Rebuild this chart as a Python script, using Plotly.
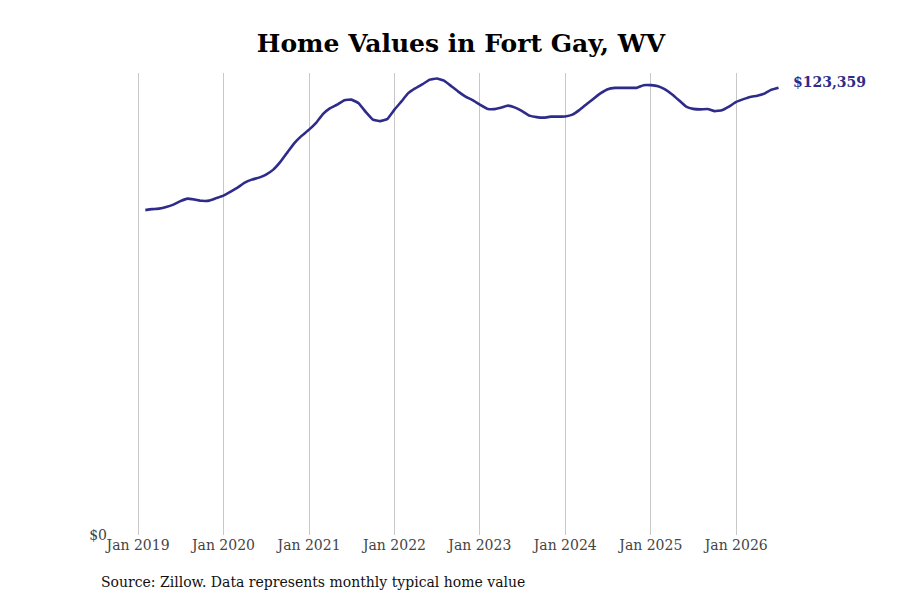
import pandas as pd
import plotly.graph_objects as go

# monthly typical home value, Feb 2019 - Jul 2026
months = pd.date_range("2019-02-01", "2026-07-01", freq="MS")
home_values = [
    89590, 89865, 90003, 90416, 91106, 92070, 92760, 92484, 92153, 92208, 92897,
    93587, 94689, 95792, 97170, 97997, 98548, 99375, 100754, 102959, 105578, 108197, 110126,
    111780, 113710, 116053, 117707, 118672, 119912, 120050, 119085, 116604, 114537, 114123, 114675,
    117293, 119636, 121842, 123220, 124323, 125563, 125894, 125288, 123771, 122255, 120877, 119912,
    118672, 117569, 117431, 117845, 118396, 117845, 116880, 115640, 115226, 115088, 115364, 115364,
    115419, 115915, 117156, 118809, 120326, 121842, 122944, 123303, 123303, 123303, 123303, 124047,
    124047, 123771, 122944, 121566, 119912, 118120, 117514, 117376, 117486, 116880, 117156, 118120,
    119416, 120188, 120794, 121153, 121704, 122807, 123359,
]
tick_years = list(range(2019, 2027))
tick_dates = [pd.Timestamp(f"{y}-01-01") for y in tick_years]
tick_labels = [f"Jan {y}" for y in tick_years]

line_colour = "#2e2b8a"
font_family = "DejaVu Serif"

# the page puts the figure 8px in from the top-left corner
W, H = 892, 592
m_left, m_right, m_top, m_bottom = 102, 110, 65, 65
plot_w = W - m_left - m_right
plot_h = H - m_top - m_bottom

fig = go.Figure()
fig.add_trace(
    go.Scatter(
        x=months,
        y=home_values,
        mode="lines",
        line=dict(color=line_colour, width=2.6, shape="spline", smoothing=0.25),
        hoverinfo="skip",
    )
)

# end-of-line value label
fig.add_annotation(
    x=months[-1],
    y=home_values[-1],
    text=f"<b>${home_values[-1]:,}</b>",
    showarrow=False,
    xanchor="left",
    xshift=12,
    yshift=6,
    font=dict(family=font_family, size=14, color=line_colour),
)

fig.add_annotation(
    x=(91 - m_left) / plot_w,
    y=-(574 - (H - m_bottom)) / plot_h,
    xref="paper",
    yref="paper",
    xanchor="left",
    yanchor="middle",
    showarrow=False,
    text="Source: Zillow. Data represents monthly typical home value",
    font=dict(family=font_family, size=14, color="#111111"),
)

fig.update_layout(
    width=W,
    height=H,
    margin=dict(l=m_left, r=m_right, t=m_top, b=m_bottom, autoexpand=False),
    paper_bgcolor="white",
    plot_bgcolor="white",
    showlegend=False,
    font=dict(family=font_family, size=14, color="#444444"),
    title=dict(
        text="<b>Home Values in Fort Gay, WV</b>",
        x=453 / W,
        xanchor="center",
        y=1 - 35 / H,
        yanchor="middle",
        font=dict(family=font_family, size=25, color="#000000"),
    ),
)

fig.update_xaxes(
    range=[pd.Timestamp("2018-09-03"), pd.Timestamp("2026-08-19")],
    tickvals=tick_dates,
    ticktext=tick_labels,
    showgrid=True,
    gridcolor="#c8c8c8",
    gridwidth=1,
    showline=False,
    zeroline=False,
    ticks="",
    tickfont=dict(family=font_family, size=14, color="#444444"),
)

fig.update_yaxes(
    range=[0, 127400],
    tickvals=[0],
    ticktext=["$0"],
    showgrid=False,
    zeroline=False,
    showline=False,
    ticks="",
    ticklabelstandoff=2,
    tickfont=dict(family=font_family, size=14, color="#444444"),
)

fig.write_html("out.html")
